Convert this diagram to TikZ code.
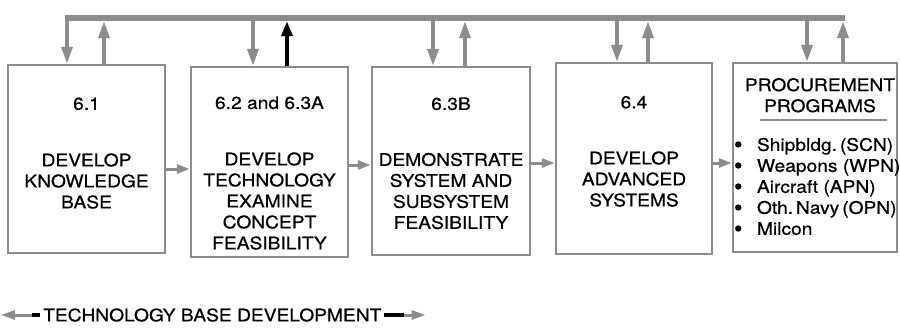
\documentclass[tikz,border=0pt]{standalone}
\usepackage{fontspec}
\setmainfont{TeX Gyre Heros}[FakeStretch=1.11, FakeBold=0.6]
\usetikzlibrary{arrows.meta, positioning}
\definecolor{linegray}{RGB}{140,140,140}
\tikzstyle{block} = [rectangle, draw=linegray, line width=2.5pt, inner sep=0pt, fill=white]
\tikzstyle{tag} = [inner sep=0pt, align=center]
\tikzstyle{feed} = [linegray, line width=3.5pt, -{Triangle[length=17pt, width=11pt]}]
\tikzstyle{report} = [black, line width=3.5pt, -{Triangle[length=15pt, width=11pt]}]
\tikzstyle{flow} = [linegray, line width=3pt, -{Triangle[length=13pt, width=9pt]}]
\tikzstyle{lead} = [linegray, line width=3pt, -{Triangle[length=14pt, width=9pt]}]
\tikzstyle{bar} = [black, line width=4pt]

\begin{document}
\begin{tikzpicture}[x=1pt, y=-1pt, every node/.style={font=\fontsize{17.3}{21}\selectfont}]
	\useasboundingbox (0,0) rectangle (900,332);

	% Shared bus along the top
	\node (bus) [fill=linegray, minimum width=780pt, minimum height=6pt, inner sep=0pt] at (455,18) {};

	% Program blocks
	\node (b1) [block, minimum width=157pt, minimum height=188pt] at (86.5,159) {};
	\node (b2) [block, minimum width=157pt, minimum height=190pt] at (269.5,162) {};
	\node (b3) [block, minimum width=158pt, minimum height=188pt] at (451,161) {};
	\node (b4) [block, minimum width=156pt, minimum height=191pt] at (634,158.5) {};
	\node (b5) [block, minimum width=164pt, minimum height=189pt] at (815,157.5) {};

	% Budget categories
	\node (n1) [tag] at ([yshift=-40pt]b1.north) {6.1};
	\node (n2) [tag] at ([yshift=-37pt]b2.north) {6.2 and 6.3A};
	\node (n3) [tag] at ([yshift=-38pt]b3.north) {6.3B};
	\node (n4) [tag] at ([yshift=-40.5pt]b4.north) {6.4};
	\node (n5) [tag] at ([xshift=5pt, yshift=-33.5pt]b5.north) {PROCUREMENT\\PROGRAMS};

	% Block descriptions
	\node (t1) [tag] at ([yshift=-22pt]b1.center) {DEVELOP\\KNOWLEDGE\\BASE};
	\node (t2) [tag] at ([yshift=-39pt]b2.center) {DEVELOP\\TECHNOLOGY\\EXAMINE\\CONCEPT\\FEASIBILITY};
	\node (t3) [tag] at ([yshift=-30pt]b3.center) {DEMONSTRATE\\SYSTEM AND\\SUBSYSTEM\\FEASIBILITY};
	\node (t4) [tag] at ([yshift=-20.5pt]b4.center) {DEVELOP\\ADVANCED\\SYSTEMS};
	\node (t5) [tag, align=left, anchor=west] at ([xshift=25pt, yshift=-29pt]b5.west) {%
		Shipbldg.\,(SCN)\\
		Weapons (WPN)\\
		Aircraft (APN)\\
		Oth.\,Navy\,(OPN)\\
		Milcon};
	\foreach \k in {2,1,0,-1,-2}
		\fill ([xshift=-18.5pt, yshift=\k*21pt]t5.west) circle (3.2pt);
	\draw[linegray, line width=1.5pt] (760,120) -- (887,120);

	% Where the arrows meet the bus
	\coordinate (d1) at (67,0);
	\coordinate (u1) at (104,0);
	\coordinate (d2) at (253,0);
	\coordinate (u2) at (287,0);
	\coordinate (d3) at (433,0);
	\coordinate (u3) at (465,0);
	\coordinate (d4) at (617,0);
	\coordinate (u4) at (648,0);
	\coordinate (d5) at (807,0);
	\coordinate (u5) at (843,0);

	% Arrows - bus to blocks
	\draw[feed] (bus.south -| d1) -- (b1.north -| d1);
	\draw[feed] (bus.south -| d2) -- (b2.north -| d2);
	\draw[feed] (bus.south -| d3) -- (b3.north -| d3);
	\draw[feed] (bus.south -| d4) -- (b4.north -| d4);
	\draw[feed] (bus.south -| d5) -- (b5.north -| d5);

	% Arrows - blocks to bus
	\draw[feed] (b1.north -| u1) -- (bus.south -| u1);
	\draw[report] (b2.north -| u2) -- (bus.south -| u2);
	\draw[feed] (b3.north -| u3) -- (bus.south -| u3);
	\draw[feed] (b4.north -| u4) -- (bus.south -| u4);
	\draw[feed] (b5.north -| u5) -- (bus.south -| u5);

	% Arrows - block to block
	\draw[flow] ([yshift=-10pt]b1.east) -- ([yshift=-7pt]b2.west);
	\draw[flow] ([yshift=-3pt]b2.east) -- ([yshift=-4pt]b3.west);
	\draw[flow] ([yshift=-2pt]b3.east) -- ([yshift=-4.5pt]b4.west);
	\draw[flow] ([yshift=-4.5pt]b4.east) -- ([yshift=-5.5pt]b5.west);

	% Legend
	\node (legend) [tag, anchor=west] at (43,315) {TECHNOLOGY BASE DEVELOPMENT};
	\draw[bar] ([xshift=-3pt]legend.west) -- ([xshift=-11pt]legend.west);
	\draw[lead] ([xshift=-11pt]legend.west) -- ([xshift=-42pt]legend.west);
	\draw[bar] ([xshift=2pt]legend.east) -- ([xshift=22pt]legend.east);
	\draw[lead] ([xshift=22pt]legend.east) -- ([xshift=44pt]legend.east);

\end{tikzpicture}
\end{document}
